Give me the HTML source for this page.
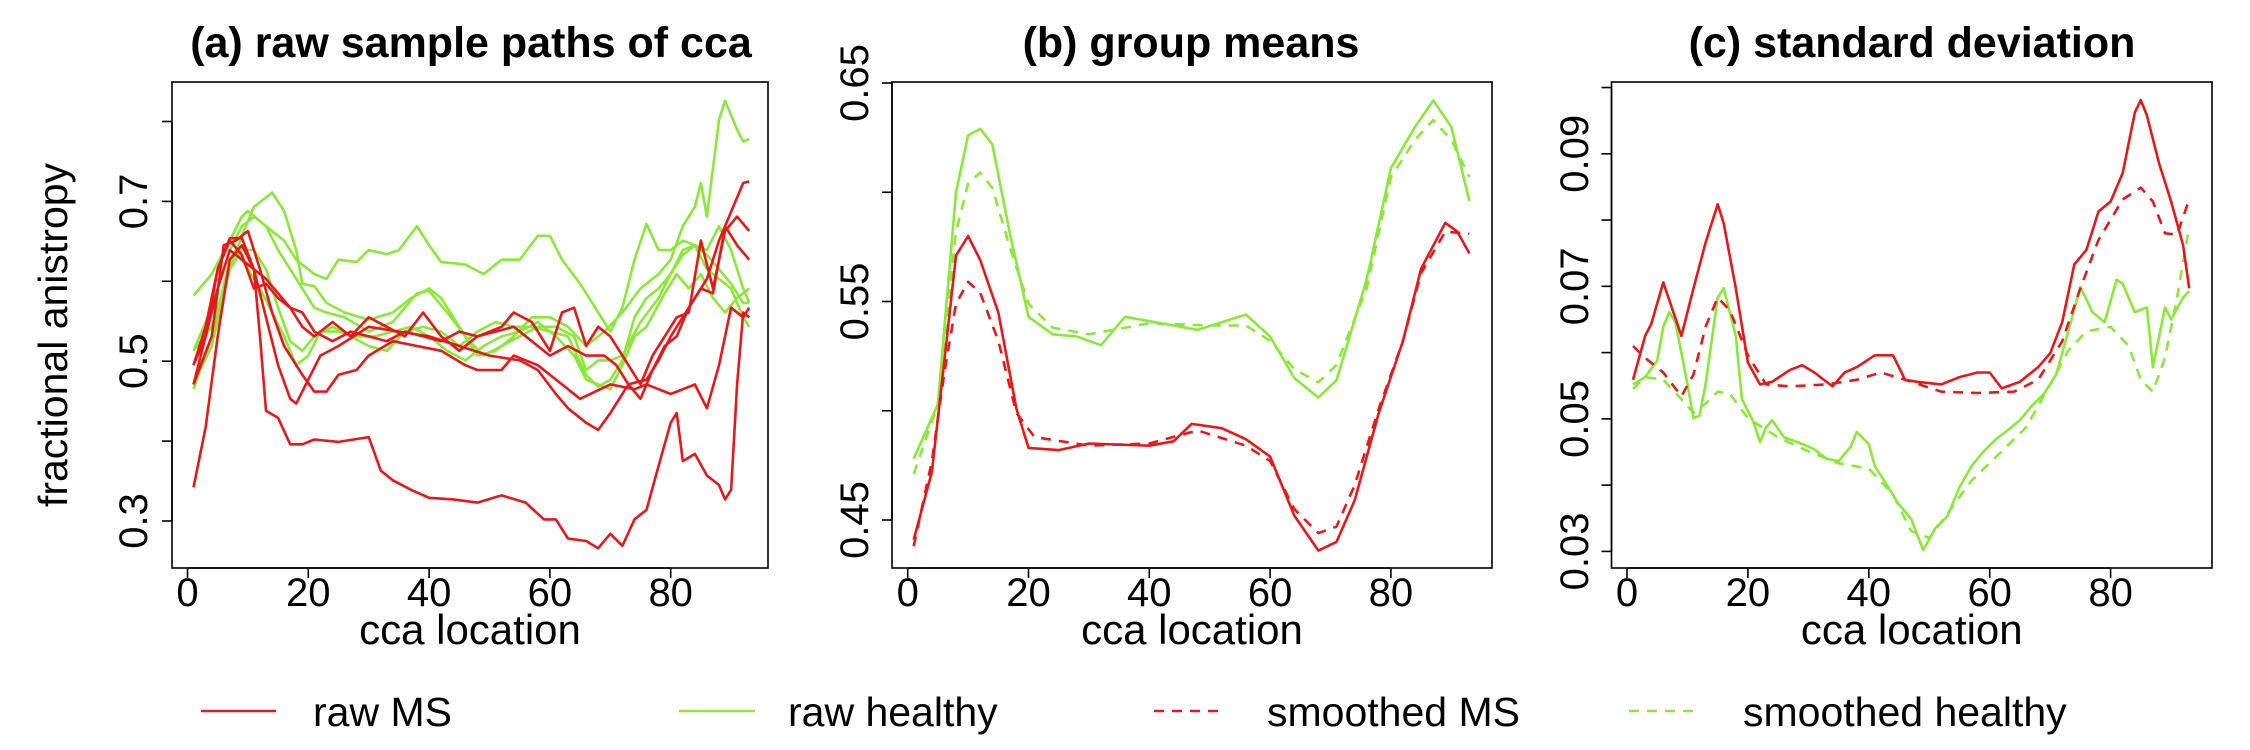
<!DOCTYPE html>
<html><head><meta charset="utf-8">
<style>
html,body{margin:0;padding:0;background:#fff;}
svg{display:block;font-family:"Liberation Sans",Arial,sans-serif;}
</style></head>
<body>
<svg id="fig" width="2250" height="750" viewBox="0 0 2250 750" xmlns="http://www.w3.org/2000/svg">
  <text x="471" y="57" font-size="43" font-weight="bold" text-anchor="middle">(a) raw sample paths of cca</text>
  <text x="1191" y="57" font-size="43" font-weight="bold" text-anchor="middle">(b) group means</text>
  <text x="1912" y="57" font-size="43" font-weight="bold" text-anchor="middle">(c) standard deviation</text>
  <text transform="translate(67,335) rotate(-90)" font-size="41" text-anchor="middle">fractional anistropy</text>
  <g>
    <line x1="201" y1="711" x2="276" y2="711" stroke="#e31a1c" stroke-width="2.5"/>
    <text x="313" y="726" font-size="41">raw MS</text>
    <line x1="679" y1="711" x2="755" y2="711" stroke="#8be83a" stroke-width="2.5"/>
    <text x="788" y="726" font-size="41">raw healthy</text>
    <line x1="1154" y1="711" x2="1220" y2="711" stroke="#e31a1c" stroke-width="2.5" stroke-dasharray="10 8"/>
    <text x="1267" y="726" font-size="41">smoothed MS</text>
    <line x1="1629" y1="711" x2="1695" y2="711" stroke="#8be83a" stroke-width="2.5" stroke-dasharray="10 8"/>
    <text x="1743" y="726" font-size="41">smoothed healthy</text>
  </g>
</svg>
<script>
// ---- panel (a) raw sample paths ----
const aR1x=[1,3,5,7,9,11,12,13,15,17,19,21,25,30,32,34,37,40,44,48,52,56,59,61,63,66,68,70,72,74,76,78,80,81,82,84,86,88,89,90,91,92,93];
const aR1y=[0.342,0.417,0.531,0.627,0.645,0.615,0.531,0.438,0.429,0.396,0.396,0.402,0.399,0.405,0.363,0.351,0.339,0.329,0.327,0.323,0.332,0.323,0.302,0.302,0.278,0.275,0.266,0.284,0.269,0.302,0.314,0.369,0.423,0.435,0.375,0.384,0.357,0.345,0.327,0.339,0.471,0.561,0.555];
const aR2x=[1,3,5,7,9,11,13,15,17,18,20,22,25,30,35,40,45,50,55,58,61,63,66,68,70,73,76,78,80,83,86,88,90,92,93];
const aR2y=[0.495,0.543,0.615,0.654,0.654,0.615,0.555,0.495,0.453,0.447,0.477,0.507,0.519,0.543,0.537,0.531,0.519,0.507,0.501,0.489,0.459,0.441,0.423,0.414,0.435,0.471,0.477,0.501,0.531,0.567,0.603,0.651,0.687,0.723,0.725];
const aR3x=[1,4,6,8,10,12,14,16,19,21,23,25,28,30,34,38,42,46,48,52,54,58,62,65,70,74,76,80,84,86,88,90,92,93];
const aR3y=[0.471,0.531,0.645,0.651,0.663,0.615,0.561,0.519,0.483,0.462,0.462,0.483,0.489,0.507,0.525,0.519,0.513,0.495,0.489,0.489,0.507,0.495,0.471,0.453,0.471,0.465,0.471,0.459,0.471,0.441,0.495,0.567,0.555,0.567];
const aR4x=[1,3,5,7,9,11,13,15,17,19,21,24,27,30,33,36,39,42,45,48,52,54,57,60,62,64,66,68,70,72,75,77,79,81,83,85,87,89,91,93];
const aR4y=[0.495,0.531,0.615,0.651,0.633,0.591,0.597,0.579,0.567,0.543,0.531,0.549,0.531,0.555,0.543,0.531,0.561,0.531,0.513,0.531,0.543,0.561,0.549,0.513,0.561,0.567,0.519,0.543,0.531,0.507,0.471,0.507,0.531,0.555,0.561,0.651,0.591,0.663,0.681,0.663];
const aR5x=[1,3,5,7,9,11,13,15,17,19,21,24,27,30,33,36,39,42,45,48,51,54,57,60,63,66,69,71,73,75,77,79,81,83,85,87,89,91,93];
const aR5y=[0.471,0.531,0.591,0.639,0.627,0.615,0.603,0.585,0.567,0.561,0.537,0.525,0.537,0.531,0.525,0.537,0.531,0.525,0.537,0.531,0.537,0.543,0.525,0.507,0.519,0.507,0.507,0.495,0.471,0.453,0.489,0.519,0.531,0.567,0.591,0.585,0.669,0.645,0.627];
const aG1x=[1,4,7,9,10,13,16,18,21,23,25,28,30,33,35,38,40,42,46,49,52,55,58,60,62,65,68,70,72,74,76,78,80,82,84,86,88,90,92,93];
const aG1y=[0.582,0.609,0.651,0.681,0.688,0.669,0.651,0.627,0.609,0.603,0.627,0.624,0.639,0.634,0.639,0.669,0.645,0.624,0.621,0.609,0.627,0.627,0.657,0.657,0.627,0.597,0.561,0.537,0.567,0.627,0.672,0.639,0.639,0.651,0.645,0.615,0.603,0.591,0.555,0.543];
const aG2x=[1,4,7,9,11,13,14,16,18,19,21,23,26,30,34,37,40,42,45,48,51,54,57,60,63,66,69,72,75,78,80,82,84,85,86,88,89,91,92,93];
const aG2y=[0.513,0.543,0.615,0.657,0.693,0.705,0.711,0.688,0.639,0.597,0.594,0.573,0.561,0.552,0.561,0.579,0.591,0.579,0.543,0.507,0.513,0.531,0.555,0.555,0.543,0.519,0.537,0.561,0.591,0.609,0.627,0.669,0.693,0.723,0.681,0.802,0.826,0.790,0.775,0.778];
const aG3x=[1,4,7,9,11,13,15,17,19,21,23,26,30,34,38,40,43,46,49,52,55,58,61,64,66,68,70,72,75,78,80,82,84,86,88,90,92,93];
const aG3y=[0.513,0.567,0.639,0.669,0.681,0.669,0.639,0.615,0.591,0.567,0.561,0.555,0.537,0.549,0.585,0.588,0.561,0.531,0.507,0.519,0.531,0.543,0.543,0.531,0.489,0.501,0.501,0.507,0.549,0.579,0.609,0.639,0.645,0.633,0.615,0.597,0.573,0.573];
const aG4x=[1,4,7,8,10,12,14,16,18,20,22,25,28,31,34,37,40,43,46,49,52,55,58,61,64,66,68,70,72,74,76,79,81,83,85,87,89,91,93];
const aG4y=[0.465,0.531,0.627,0.639,0.615,0.591,0.561,0.531,0.495,0.507,0.537,0.537,0.531,0.531,0.537,0.543,0.531,0.513,0.501,0.519,0.531,0.537,0.549,0.531,0.507,0.477,0.471,0.465,0.495,0.531,0.543,0.585,0.609,0.591,0.609,0.579,0.561,0.579,0.591];
const aG5x=[1,4,7,9,11,13,15,17,19,21,24,27,30,33,36,39,42,45,48,51,54,57,60,63,66,68,70,72,74,76,78,80,82,84,86,88,90,92,93];
const aG5y=[0.471,0.519,0.615,0.639,0.639,0.615,0.567,0.525,0.513,0.531,0.543,0.531,0.519,0.513,0.537,0.543,0.537,0.519,0.537,0.549,0.543,0.543,0.537,0.531,0.483,0.468,0.477,0.501,0.555,0.579,0.591,0.609,0.633,0.645,0.639,0.669,0.639,0.591,0.573];
// ---- panel (b) group means ----
const bHx=[1,5,8,10,12,14,17,20,24,28,32,36,40,48,56,60,64,68,71,76,80,84,87,90,93];
const bHy=[0.478,0.503,0.60,0.626,0.629,0.622,0.58,0.543,0.535,0.534,0.530,0.543,0.541,0.537,0.544,0.534,0.515,0.506,0.514,0.560,0.611,0.63,0.642,0.630,0.596];
const bHSx=[1,5,8,10,12,14,17,20,24,30,36,40,50,56,60,64,68,71,76,80,84,87,90,93];
const bHSy=[0.471,0.503,0.582,0.604,0.609,0.602,0.574,0.549,0.538,0.535,0.538,0.540,0.539,0.539,0.532,0.519,0.513,0.521,0.556,0.607,0.624,0.633,0.624,0.607];
const bMx=[1,4,6,8,10,12,15,18,20,25,30,40,44,47,52,56,60,64,68,71,74,78,82,85,89,91,93];
const bMy=[0.441,0.472,0.521,0.571,0.580,0.569,0.545,0.501,0.483,0.482,0.485,0.484,0.486,0.494,0.492,0.487,0.479,0.452,0.436,0.440,0.459,0.499,0.532,0.565,0.586,0.582,0.572];
const bMSx=[1,4,6,8,10,12,15,18,21,30,40,48,56,60,64,68,71,74,78,82,85,89,93];
const bMSy=[0.438,0.477,0.516,0.549,0.559,0.554,0.532,0.499,0.488,0.484,0.485,0.491,0.484,0.477,0.455,0.444,0.447,0.466,0.501,0.532,0.563,0.582,0.581];
// ---- panel (c) standard deviation ----
const cMx=[1,3,4,6,7,9,11,13,15,16,18,20,22,24,27,29,31,34,36,38,41,44,46,48,52,55,58,60,62,65,68,70,72,74,76,78,80,82,84,85,86,88,90,92,93];
const cMy=[0.0559,0.0625,0.0643,0.0706,0.0679,0.0625,0.0697,0.0766,0.0824,0.0795,0.0697,0.0585,0.0552,0.0556,0.0574,0.0581,0.0570,0.0549,0.0570,0.0578,0.0596,0.0596,0.0559,0.0556,0.0552,0.0563,0.0570,0.0570,0.0546,0.0556,0.0578,0.0599,0.0646,0.0733,0.0755,0.0813,0.0828,0.0871,0.0962,0.0981,0.0958,0.0886,0.0828,0.0762,0.0697];
const cMSx=[1,3,6,9,11,13,15,17,20,23,27,33,38,42,46,52,58,64,68,72,75,78,82,85,87,89,91,93];
const cMSy=[0.0610,0.0592,0.0570,0.0534,0.0567,0.0639,0.0683,0.0664,0.0596,0.0552,0.0549,0.0552,0.0559,0.0570,0.0559,0.0541,0.0539,0.0541,0.0559,0.0617,0.0697,0.0770,0.0831,0.0849,0.0828,0.0780,0.0778,0.0831];
const cHx=[1,3,5,6,7,8,10,11,12,13,15,16,18,19,21,22,23,24,26,29,31,33,35,37,38,40,41,43,45,47,49,51,53,55,57,59,61,63,65,67,69,71,73,75,77,79,81,82,84,86,87,89,90,92,93];
const cHy=[0.0552,0.0563,0.0588,0.0639,0.0661,0.0646,0.0552,0.0501,0.0505,0.0552,0.0683,0.0697,0.0625,0.0530,0.0494,0.0465,0.0487,0.0498,0.0472,0.0462,0.0454,0.0440,0.0436,0.0458,0.0480,0.0462,0.0429,0.0400,0.0371,0.0349,0.0302,0.0335,0.0353,0.0397,0.0429,0.0451,0.0469,0.0483,0.0498,0.0520,0.0538,0.0567,0.0632,0.0699,0.0661,0.0646,0.0710,0.0704,0.0661,0.0668,0.0578,0.0668,0.0650,0.0683,0.0693];
const cHSx=[1,3,6,9,11,13,15,17,20,25,30,35,40,44,47,50,53,57,62,66,70,73,76,80,83,85,87,89,91,93];
const cHSy=[0.0545,0.0563,0.0559,0.0530,0.0509,0.0523,0.0541,0.0538,0.0501,0.0472,0.0451,0.0433,0.0425,0.0386,0.0331,0.0320,0.0357,0.0407,0.0451,0.0487,0.0552,0.0603,0.0632,0.0639,0.0610,0.0559,0.0541,0.0592,0.0683,0.0791];
// tick values
const xTicks=[0,20,40,60,80];
const aYTicks=[0.3,0.4,0.5,0.6,0.7,0.8];
const aYLabels=["0.3","","0.5","","0.7",""];
const bYTicks=[0.45,0.5,0.55,0.6,0.65];
const bYLabels=["0.45","","0.55","","0.65"];
const cYTicks=[0.03,0.04,0.05,0.06,0.07,0.08,0.09,0.10];
const cYLabels=["0.03","","0.05","","0.07","","0.09",""];

const NS="http://www.w3.org/2000/svg";
const svg=document.getElementById('fig');
const RED="#e31a1c", GREEN="#8be83a";
function mk(tag,attrs,parent){const e=document.createElementNS(NS,tag);for(const k in attrs)e.setAttribute(k,attrs[k]);(parent||svg).appendChild(e);return e;}

function panel(id,box,x0,xk,yv1,yp1,yv2,yp2,yTicks,yLabels,labX,series){
  const g=mk('g',{});
  
  
  const sx=v=>x0+v*xk;
  const sy=v=>yp1+(v-yv1)*(yp2-yp1)/(yv2-yv1);
  const clipId=id+'-clip';
  const cp=mk('clipPath',{id:clipId},g);
  mk('rect',{x:box[0],y:box[1],width:box[2]-box[0],height:box[3]-box[1]},cp);
  series.forEach(s=>{
    const pts=s.x.map((v,i)=>sx(v).toFixed(1)+','+sy(s.y[i]).toFixed(1)).join(' ');
    const pl=mk('polyline',{points:pts,fill:'none',stroke:s.c,'stroke-width':2.6,'stroke-linejoin':'round','clip-path':'url(#'+clipId+')'},g);
    if(s.d)pl.setAttribute('stroke-dasharray','10 8');
    
    
  });
  const frame=mk('rect',{x:box[0],y:box[1],width:box[2]-box[0],height:box[3]-box[1],fill:'none',stroke:'#000','stroke-width':1.6},g);
  
  
  const xa=mk('g',{},g);
  
  
  xTicks.forEach(t=>{
    const px=sx(t);
    mk('line',{x1:px,y1:box[3],x2:px,y2:box[3]+10,stroke:'#000','stroke-width':1.6},xa);
    const tx=mk('text',{x:px,y:606,'font-size':40,'text-anchor':'middle'},xa);
    tx.textContent=String(t);
    
    
  });
  mk('line',{x1:sx(xTicks[0]),y1:box[3],x2:sx(xTicks[xTicks.length-1]),y2:box[3],stroke:'#000','stroke-width':1.6},xa);
  const xt=mk('text',{x:(box[0]+box[2])/2,y:644,'font-size':42,'text-anchor':'middle'},xa);
  xt.textContent='cca location';
  
  
  const ya=mk('g',{},g);
  
  
  yTicks.forEach((t,i)=>{
    const py=sy(t);
    mk('line',{x1:box[0]-10,y1:py,x2:box[0],y2:py,stroke:'#000','stroke-width':1.6},ya);
    if(yLabels[i]){
      const tx=mk('text',{transform:'translate('+labX+','+py.toFixed(1)+') rotate(-90)','font-size':40,'text-anchor':'middle'},ya);
      tx.textContent=yLabels[i];
      
      
    }
  });
  mk('line',{x1:box[0],y1:sy(yTicks[0]),x2:box[0],y2:sy(yTicks[yTicks.length-1]),stroke:'#000','stroke-width':1.6},ya);
}

panel('panel-a',[172,82,768,568],187.5,6.04,0.7,201.4,0.3,521,aYTicks,aYLabels,147,[
  {x:aG1x,y:aG1y,c:GREEN,n:'raw-healthy-path-1'},
  {x:aG2x,y:aG2y,c:GREEN,n:'raw-healthy-path-2'},
  {x:aG3x,y:aG3y,c:GREEN,n:'raw-healthy-path-3'},
  {x:aG4x,y:aG4y,c:GREEN,n:'raw-healthy-path-4'},
  {x:aG5x,y:aG5y,c:GREEN,n:'raw-healthy-path-5'},
  {x:aR1x,y:aR1y,c:RED,n:'raw-ms-path-1'},
  {x:aR2x,y:aR2y,c:RED,n:'raw-ms-path-2'},
  {x:aR3x,y:aR3y,c:RED,n:'raw-ms-path-3'},
  {x:aR4x,y:aR4y,c:RED,n:'raw-ms-path-4'},
  {x:aR5x,y:aR5y,c:RED,n:'raw-ms-path-5'}
]);
panel('panel-b',[892,82,1492,568],907.7,6.04,0.65,83,0.45,520,bYTicks,bYLabels,868,[
  {x:bHx,y:bHy,c:GREEN,n:'raw-healthy-mean'},
  {x:bHSx,y:bHSy,c:GREEN,d:1,n:'smoothed-healthy-mean'},
  {x:bMx,y:bMy,c:RED,n:'raw-ms-mean'},
  {x:bMSx,y:bMSy,c:RED,d:1,n:'smoothed-ms-mean'}
]);
panel('panel-c',[1611.5,82,2212,568],1627,6.045,0.09,153.8,0.03,551.4,cYTicks,cYLabels,1588,[
  {x:cHx,y:cHy,c:GREEN,n:'raw-healthy-sd'},
  {x:cHSx,y:cHSy,c:GREEN,d:1,n:'smoothed-healthy-sd'},
  {x:cMx,y:cMy,c:RED,n:'raw-ms-sd'},
  {x:cMSx,y:cMSy,c:RED,d:1,n:'smoothed-ms-sd'}
]);
</script>
</body></html>
